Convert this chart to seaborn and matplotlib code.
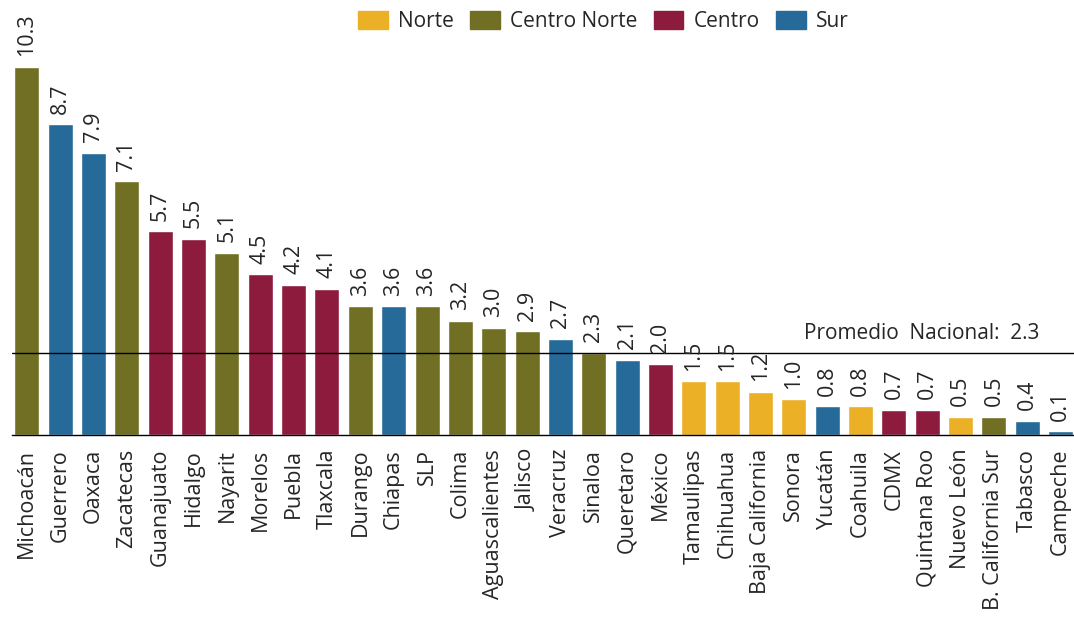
import matplotlib
matplotlib.use("Agg")
import matplotlib.pyplot as plt
import seaborn as sns
import pandas as pd
from matplotlib.patches import Patch

estados = ["Michoacán", "Guerrero", "Oaxaca", "Zacatecas", "Guanajuato", "Hidalgo",
           "Nayarit", "Morelos", "Puebla", "Tlaxcala", "Durango", "Chiapas", "SLP",
           "Colima", "Aguascalientes", "Jalisco", "Veracruz", "Sinaloa", "Queretaro",
           "México", "Tamaulipas", "Chihuahua", "Baja California", "Sonora", "Yucatán",
           "Coahuila", "CDMX", "Quintana Roo", "Nuevo León", "B. California Sur",
           "Tabasco", "Campeche"]
valores = [10.3, 8.7, 7.9, 7.1, 5.7, 5.5, 5.1, 4.5, 4.2, 4.1, 3.6, 3.6, 3.6, 3.2,
           3.0, 2.9, 2.7, 2.3, 2.1, 2.0, 1.5, 1.5, 1.2, 1.0, 0.8, 0.8, 0.7, 0.7,
           0.5, 0.5, 0.4, 0.1]
regiones = ["Centro Norte", "Sur", "Sur", "Centro Norte", "Centro", "Centro",
            "Centro Norte", "Centro", "Centro", "Centro", "Centro Norte", "Sur",
            "Centro Norte", "Centro Norte", "Centro Norte", "Centro Norte", "Sur",
            "Centro Norte", "Sur", "Centro", "Norte", "Norte", "Norte", "Norte", "Sur",
            "Norte", "Centro", "Centro", "Norte", "Centro Norte", "Sur", "Sur"]
orden_regiones = ["Norte", "Centro Norte", "Centro", "Sur"]
promedio = 2.3

colores = {"Norte": "#EBB025", "Centro Norte": "#716F23",
           "Centro": "#8D1B3D", "Sur": "#266A99"}

sns.set_style("white")
plt.rcParams["font.family"] = ["Open Sans", "DejaVu Sans"]

df = pd.DataFrame({"estado": estados, "valor": valores, "region": regiones})

fig = plt.figure(figsize=(10.74, 6.17), dpi=100)
ax = fig.add_axes([0.011, 0.295, 0.989, 0.705])

sns.barplot(data=df, x="estado", y="valor", hue="region", palette=colores,
            hue_order=orden_regiones, dodge=False, width=0.75, saturation=1,
            ax=ax, legend=False)

# value labels above bars
for i, v in enumerate(valores):
    ax.text(i, v + 0.3, f"{v:.1f}", rotation=90, ha="center", va="bottom", fontsize=15.5)

# national average line
ax.axhline(promedio, color="black", lw=1)
ax.text(30.35, promedio + 0.25, f"Promedio  Nacional:  {promedio}", ha="right",
        va="bottom", fontsize=15)

ax.set_xlim(-0.45, 31.4)
ax.set_ylim(0, 12.18)
ax.set_xlabel("")
ax.set_ylabel("")
ax.set_yticks([])
ax.tick_params(axis="x", length=0, pad=10)
plt.setp(ax.get_xticklabels(), rotation=90, fontsize=15.5)
for s in ["top", "right", "left"]:
    ax.spines[s].set_visible(False)
ax.spines["bottom"].set_color("black")
ax.spines["bottom"].set_linewidth(1)

handles = [Patch(color=colores[r], label=r) for r in orden_regiones]
fig.legend(handles=handles, loc="upper center", bbox_to_anchor=(0.562, 1.012), ncol=4,
           frameon=False, fontsize=15, handlelength=1.4, handleheight=0.95,
           columnspacing=0.8, handletextpad=0.5)

fig.savefig("out.png", dpi=100)
